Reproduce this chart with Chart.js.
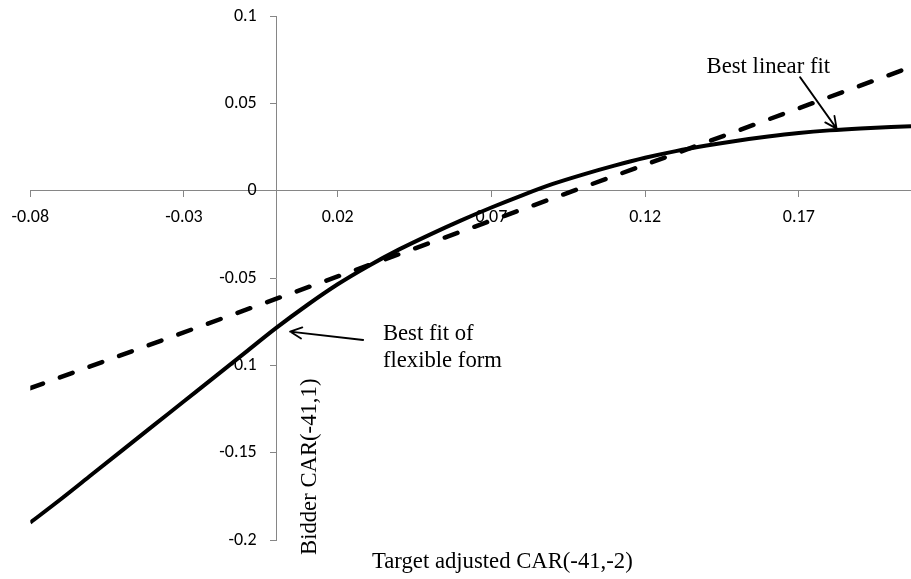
<!DOCTYPE html>
<html>
<head>
<meta charset="utf-8">
<script src="https://cdn.jsdelivr.net/npm/chart.js@4/dist/chart.umd.min.js"></script>
<style>
html,body{margin:0;padding:0;background:#fff;}
canvas{display:block;}
</style>
</head>
<body>
<canvas id="c" width="911" height="579"></canvas>
<script>
// ---- data ----
const flexX = [-0.08,-0.07,-0.06,-0.05,-0.04,-0.03,-0.02,-0.01,0.00,0.01,0.02,0.03,0.04,0.05,0.06,0.07,0.08,0.09,0.10,0.11,0.12,0.13,0.14,0.15,0.16,0.17,0.18,0.19,0.20,0.2065];
const flexY = [-0.190,-0.1765,-0.1625,-0.1485,-0.1345,-0.1205,-0.1065,-0.0925,-0.0785,-0.0655,-0.0535,-0.0430,-0.0335,-0.0250,-0.0170,-0.0095,-0.0025,0.0040,0.0095,0.0145,0.0190,0.0228,0.0260,0.0288,0.0312,0.0332,0.0347,0.0358,0.0366,0.0370];
const linX = [-0.08, 0.02, 0.12, 0.2065];
const linY = [-0.113, -0.049, 0.015, 0.071];
const seriesNames = ['Best fit of flexible form', 'Best linear fit'];
const xTickValues = [-0.08, -0.03, 0.02, 0.07, 0.12, 0.17];
const xTickLabels = ['-0.08', '-0.03', '0.02', '0.07', '0.12', '0.17'];
const yTickValues = [-0.2, -0.15, -0.1, -0.05, 0, 0.05, 0.1];
const yTickLabels = ['-0.2', '-0.15', '-0.1', '-0.05', '0', '0.05', '0.1'];
const xTitle = 'Target adjusted CAR(-41,-2)';
const yTitle = 'Bidder CAR(-41,1)';
const flexNoteLines = ['Best fit of', 'flexible form'];
const linNoteLines = ['Best linear fit'];

// ---- styling / layout ----
const AXIS = '#868686';
const SERIF = '22.7px "Liberation Serif", "Times New Roman", serif';
const TICKFAMILY = 'Carlito, Lato, "Open Sans", sans-serif';
const TICKFONT = {family: TICKFAMILY, size: 18};

const notes = [
  {lines: linNoteLines, text: [0.1400, 0.0675], tail: [0.1704, 0.0652], tip: [0.1823, 0.0357]},
  {lines: flexNoteLines, text: [0.0347, -0.0854], tail: [0.0283, -0.0854], tip: [0.0045, -0.0806]}
];

function arrow(ctx, x1, y1, x2, y2) {
  const a = Math.atan2(y2 - y1, x2 - x1);
  const L = 13, w = 0.45;
  ctx.beginPath();
  ctx.moveTo(x1, y1); ctx.lineTo(x2, y2);
  ctx.moveTo(x2 - L * Math.cos(a - w), y2 - L * Math.sin(a - w));
  ctx.lineTo(x2, y2);
  ctx.lineTo(x2 - L * Math.cos(a + w), y2 - L * Math.sin(a + w));
  ctx.stroke();
}

const decor = {
  id: 'decor',
  afterDraw(chart) {
    const {ctx, scales: {x, y}} = chart;
    ctx.save();
    // y tick labels, placed left of the y axis (which crosses at x = 0)
    const axisX = x.getPixelForValue(0);
    ctx.fillStyle = '#000';
    ctx.font = '18px ' + TICKFAMILY;
    ctx.textAlign = 'right';
    ctx.textBaseline = 'middle';
    yTickValues.forEach((v, i) => ctx.fillText(yTickLabels[i], axisX - 19.5, y.getPixelForValue(v)));

    ctx.strokeStyle = '#000';
    ctx.lineWidth = 1.8;
    ctx.lineCap = 'round';
    ctx.lineJoin = 'round';
    ctx.font = SERIF;
    ctx.textBaseline = 'alphabetic';
    ctx.textAlign = 'left';
    for (const n of notes) {
      const tx = x.getPixelForValue(n.text[0]);
      const ty = y.getPixelForValue(n.text[1]);
      n.lines.forEach((s, i) => ctx.fillText(s, tx, ty + i * 26.7));
      arrow(ctx, x.getPixelForValue(n.tail[0]), y.getPixelForValue(n.tail[1]),
                 x.getPixelForValue(n.tip[0]), y.getPixelForValue(n.tip[1]));
    }
    // axis titles
    ctx.fillText(xTitle, 372, 568);
    ctx.translate(316, 555);
    ctx.rotate(-Math.PI / 2);
    ctx.fillText(yTitle, 0, 0);
    ctx.restore();
  }
};

new Chart(document.getElementById('c'), {
  type: 'scatter',
  data: {
    datasets: [
      {
        label: seriesNames[0],
        data: flexX.map((v, i) => ({x: v, y: flexY[i]})),
        showLine: true, pointRadius: 0, borderColor: '#000', borderWidth: 4,
        cubicInterpolationMode: 'monotone', fill: false
      },
      {
        label: seriesNames[1],
        data: linX.map((v, i) => ({x: v, y: linY[i]})),
        showLine: true, pointRadius: 0, borderColor: '#000', borderWidth: 4.5,
        borderDash: [13.5, 18], borderCapStyle: 'round', fill: false, tension: 0
      }
    ]
  },
  options: {
    responsive: false,
    animation: false,
    events: [],
    layout: {padding: {left: 30.3, right: 0, top: 16.4, bottom: 39}},
    plugins: {legend: {display: false}, tooltip: {enabled: false}, title: {display: false}},
    scales: {
      x: {
        type: 'linear', min: -0.08, max: 0.2065,
        position: {y: 0},
        afterBuildTicks: s => { s.ticks = xTickValues.map(v => ({value: v})); },
        ticks: {
          autoSkip: false, maxRotation: 0, color: '#000', font: TICKFONT, padding: 10,
          callback: (v, i) => xTickLabels[i]
        },
        grid: {drawOnChartArea: false, drawTicks: true, tickLength: 6, color: AXIS, lineWidth: 1},
        border: {display: true, color: AXIS, width: 1}
      },
      y: {
        type: 'linear', min: -0.2, max: 0.1,
        position: {x: 0},
        afterBuildTicks: s => { s.ticks = yTickValues.map(v => ({value: v})); },
        ticks: {display: false, callback: (v, i) => yTickLabels[i]},
        grid: {drawOnChartArea: false, drawTicks: true, tickLength: 6, color: AXIS, lineWidth: 1},
        border: {display: true, color: AXIS, width: 1}
      }
    }
  },
  plugins: [decor]
});
</script>
</body>
</html>
